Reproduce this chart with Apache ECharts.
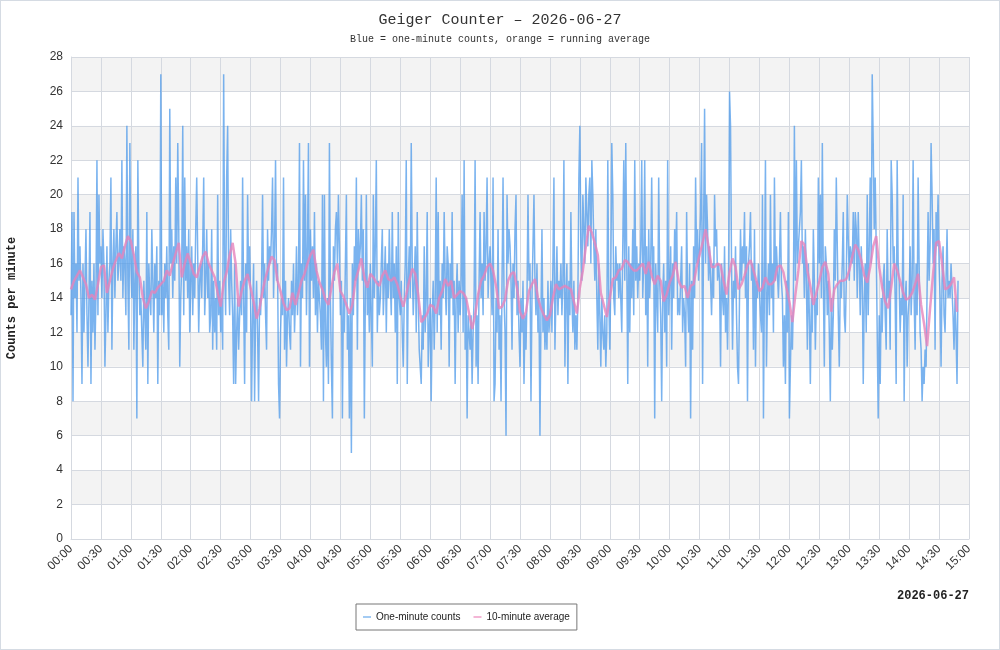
<!DOCTYPE html>
<html>
<head>
<meta charset="utf-8">
<script src="https://cdn.jsdelivr.net/npm/echarts@6/dist/echarts.min.js"></script>
<style>
html, body { margin: 0; padding: 0; background: #fff; }
#main { width: 1000px; height: 650px; box-sizing: border-box; border: 1px solid #d5dbe3; }
</style>
</head>
<body>
<div id="main"></div>
<script>
// one-minute counts, 00:00 .. 14:49 (one value per minute)
var counts = [
  13, 19, 8, 19, 14, 16, 12, 21, 15, 17,
  14, 9, 16, 12, 15, 18, 13, 10, 14, 19,
  9, 15, 12, 16, 11, 14, 22, 13, 20, 16,
  17, 14, 18, 16, 10, 13, 17, 12, 15, 16,
  21, 11, 16, 18, 14, 17, 19, 15, 16, 18,
  15, 22, 14, 17, 16, 13, 24, 15, 11, 23,
  16, 14, 18, 11, 15, 17, 7, 22, 16, 13,
  14, 12, 10, 15, 13, 11, 19, 9, 16, 14,
  13, 18, 15, 12, 16, 14, 17, 9, 15, 13,
  27, 13, 15, 12, 16, 14, 17, 13, 11, 25,
  16, 18, 14, 17, 15, 21, 16, 23, 18, 10,
  14, 16, 24, 13, 21, 15, 17, 14, 18, 12,
  15, 17, 13, 16, 14, 18, 21, 21, 12, 15,
  16, 14, 17, 21, 13, 15, 18, 14, 16, 12,
  13, 18, 11, 15, 12, 14, 11, 20, 13, 15,
  12, 14, 11, 27, 16, 13, 21, 24, 15, 13,
  18, 15, 13, 9, 16, 9, 12, 14, 11, 13,
  15, 13, 21, 14, 9, 16, 12, 20, 15, 17,
  14, 8, 13, 16, 8, 13, 15, 12, 8, 14,
  13, 15, 20, 14, 16, 13, 11, 18, 15, 17,
  16, 18, 21, 14, 17, 22, 15, 16, 9, 7,
  12, 14, 13, 21, 11, 15, 10, 13, 14, 12,
  11, 15, 13, 16, 12, 14, 17, 13, 15, 23,
  10, 16, 14, 22, 15, 20, 13, 17, 23, 10,
  18, 15, 17, 14, 19, 13, 16, 12, 15, 14,
  13, 11, 20, 8, 20, 12, 10, 14, 9, 23,
  14, 10, 7, 17, 15, 18, 19, 16, 20, 17,
  13, 15, 7, 14, 12, 16, 20, 11, 13, 7,
  14, 5, 16, 13, 17, 15, 21, 11, 18, 16,
  17, 20, 15, 18, 7, 14, 20, 13, 15, 12,
  16, 13, 10, 20, 14, 17, 22, 12, 15, 13,
  14, 16, 18, 13, 15, 17, 12, 16, 14, 18,
  15, 13, 19, 14, 16, 12, 17, 9, 19, 14,
  13, 15, 12, 10, 14, 16, 22, 9, 15, 17,
  14, 23, 16, 13, 15, 17, 12, 19, 14, 11,
  10, 9, 13, 11, 17, 12, 14, 19, 10, 12,
  14, 8, 13, 15, 11, 14, 21, 12, 19, 13,
  15, 11, 16, 14, 19, 15, 13, 17, 16, 10,
  16, 14, 19, 13, 15, 9, 14, 16, 12, 15,
  13, 15, 20, 12, 22, 11, 14, 7, 13, 12,
  11, 13, 9, 12, 14, 22, 10, 13, 9, 15,
  19, 14, 16, 13, 19, 15, 17, 21, 14, 16,
  17, 15, 13, 21, 8, 9, 14, 12, 18, 11,
  13, 8, 15, 21, 14, 12, 6, 20, 16, 18,
  17, 15, 11, 16, 14, 18, 20, 13, 15, 12,
  10, 14, 12, 15, 9, 13, 11, 14, 20, 15,
  16, 8, 14, 17, 20, 15, 13, 16, 12, 14,
  6, 13, 18, 12, 14, 11, 13, 11, 15, 12,
  13, 15, 12, 16, 21, 11, 14, 17, 13, 15,
  14, 16, 13, 15, 22, 10, 14, 16, 9, 15,
  13, 19, 14, 12, 15, 11, 13, 11, 14, 21,
  24, 17, 15, 20, 18, 16, 21, 19, 17, 20,
  21, 16, 22, 20, 17, 15, 18, 14, 11, 16,
  13, 10, 14, 12, 11, 13, 10, 12, 22, 14,
  11, 15, 23, 20, 14, 13, 17, 15, 16, 14,
  16, 14, 12, 17, 22, 15, 23, 16, 9, 17,
  12, 16, 14, 18, 13, 22, 15, 17, 14, 16,
  15, 17, 22, 14, 16, 22, 13, 17, 10, 18,
  14, 16, 21, 15, 17, 7, 16, 14, 12, 21,
  15, 13, 8, 14, 16, 12, 15, 10, 22, 13,
  15, 17, 11, 16, 14, 18, 16, 19, 13, 14,
  13, 15, 17, 12, 14, 13, 10, 19, 14, 12,
  16, 7, 15, 11, 17, 14, 21, 16, 18, 15,
  17, 19, 23, 9, 18, 25, 16, 20, 18, 15,
  17, 15, 13, 16, 14, 20, 17, 18, 15, 16,
  15, 10, 16, 14, 13, 17, 12, 14, 11, 15,
  26, 24, 16, 11, 15, 14, 17, 13, 10, 9,
  14, 18, 15, 17, 16, 19, 14, 17, 8, 16,
  17, 19, 15, 16, 11, 18, 10, 15, 14, 16,
  16, 13, 12, 20, 7, 15, 22, 10, 14, 16,
  13, 20, 14, 16, 12, 21, 15, 17, 17, 14,
  16, 19, 15, 14, 10, 13, 9, 15, 12, 19,
  7, 10, 13, 11, 14, 24, 15, 22, 16, 17,
  18, 19, 22, 16, 17, 14, 18, 15, 11, 16,
  13, 9, 14, 12, 18, 15, 11, 14, 13, 21,
  16, 20, 14, 23, 15, 10, 17, 16, 13, 15,
  12, 8, 14, 11, 13, 18, 15, 21, 21, 13,
  10, 15, 14, 16, 19, 13, 12, 15, 20, 20,
  15, 17, 17, 16, 19, 15, 19, 18, 14, 19,
  16, 13, 17, 15, 9, 14, 16, 12, 20, 13,
  17, 21, 16, 27, 23, 18, 21, 17, 12, 7,
  13, 9, 14, 12, 15, 16, 13, 11, 18, 14,
  15, 11, 22, 20, 16, 17, 14, 9, 22, 16,
  15, 12, 14, 13, 20, 8, 14, 15, 10, 13,
  14, 17, 13, 15, 22, 14, 11, 16, 13, 21,
  16, 12, 11, 8, 10, 9, 11, 10, 10, 19,
  15, 17, 23, 20, 16, 18, 11, 19, 17, 20,
  16, 14, 10, 15, 17, 13, 12, 15, 18, 14,
  15, 14, 16, 16, 13, 11, 14, 12, 9, 15
];

// 10-minute average, one reading every 3 minutes
var avgEvery = 3;
var average10 = [
  14.5, 15.0, 15.3, 15.6, 15.2, 14.8, 14.0, 14.2, 13.9, 14.8,
  15.8, 15.9, 14.3, 15.0, 15.7, 16.2, 16.6, 16.3, 17.0, 17.6,
  17.3, 16.5, 15.5, 15.2, 14.0, 13.4, 13.8, 14.4, 14.3, 14.6,
  14.8, 15.0, 15.6, 15.3, 16.0, 16.6, 17.2, 15.2, 16.0, 16.6,
  16.0, 15.4, 15.2, 15.8, 16.4, 16.7, 16.0, 15.6, 15.2, 14.3,
  13.5, 14.9, 15.5, 16.5, 17.2, 16.0, 13.5, 14.4, 15.0, 15.4,
  14.6, 13.8, 12.8, 13.4, 14.4, 15.2, 15.8, 16.4, 16.2, 15.0,
  14.4, 13.7, 13.3, 13.4, 14.3, 13.6, 14.3, 15.0, 15.4, 16.0,
  16.5, 16.8, 15.6, 14.9, 14.5, 13.9, 13.6, 14.6, 15.5, 16.0,
  14.4, 14.1, 13.6, 13.1, 13.6, 15.0, 15.6, 16.3, 15.2, 14.6,
  15.4, 15.2, 14.9, 14.7, 15.3, 15.6, 15.1, 15.0, 15.2, 14.8,
  14.1, 13.5, 14.2, 15.0, 15.7, 15.4, 14.2, 12.6, 12.8, 13.1,
  13.6, 13.5, 13.1, 14.0, 14.4, 15.1, 14.7, 15.0, 14.0, 14.2,
  14.4, 14.3, 14.0, 13.1, 12.2, 13.0, 14.2, 15.0, 15.3, 15.8,
  16.0, 15.6, 14.7, 13.4, 13.5, 13.9, 15.0, 15.4, 15.5, 14.6,
  13.2, 12.8, 13.2, 14.4, 14.8, 15.1, 14.0, 13.4, 13.0, 12.7,
  13.0, 14.0, 14.8, 14.5, 14.6, 14.7, 14.6, 14.5, 13.8, 13.1,
  14.6, 15.6, 17.0, 18.2, 17.8, 17.2, 16.5, 14.3, 13.6, 12.9,
  14.0, 15.1, 15.2, 15.6, 15.7, 16.2, 16.1, 15.8, 15.6, 15.6,
  15.8, 16.0, 15.4, 16.1, 15.3, 14.8, 15.3, 15.0, 13.8, 14.2,
  14.9, 15.3, 16.1, 15.0, 14.6, 14.7, 14.0, 14.7, 14.8, 15.8,
  16.5, 17.2, 18.0, 17.0, 15.8, 15.8, 16.0, 15.9, 15.0, 14.2,
  15.5, 16.3, 15.8, 14.5, 14.8, 15.3, 15.9, 16.2, 15.6, 15.0,
  14.4, 14.6, 15.2, 14.8, 14.8, 15.0, 15.8, 15.9, 15.5, 14.6,
  13.8, 12.6, 14.2, 15.6, 17.3, 17.1, 15.6, 14.7, 13.6, 14.3,
  15.0, 15.8, 16.1, 15.4, 13.2, 14.5, 14.8, 15.0, 15.0, 15.1,
  15.6, 16.4, 17.1, 16.8, 16.2, 15.3, 14.9, 15.8, 17.0, 17.6,
  15.8, 14.6, 13.8, 13.4, 14.6, 16.0, 15.6, 15.0, 14.3, 13.9,
  14.0, 14.3, 14.8, 15.4, 13.6, 12.5, 11.2, 13.4, 15.4, 17.2,
  17.3, 16.0, 14.5, 14.6, 14.8, 15.2, 13.2
];

var yTicks = { min: 0, max: 28, step: 2 };
var xTicks = { min: 0, max: 900, step: 30 };   // minutes after midnight
var day = '2026-06-27';

function hhmm(m) {
    var h = Math.floor(m / 60), mm = m % 60;
    return (h < 10 ? '0' : '') + h + ':' + (mm < 10 ? '0' : '') + mm;
}

var countData = counts.map(function (v, i) { return [i, v]; });
var avgData = average10.map(function (v, i) { return [i * avgEvery, v]; });

var myChart = echarts.init(document.getElementById('main'));

var option = {
    backgroundColor: '#fff',
    animation: false,
    title: {
        text: 'Geiger Counter \u2013 ' + day,
        subtext: 'Blue = one-minute counts, orange = running average',
        left: 'center',
        top: 7,
        itemGap: 6,
        textStyle: { fontFamily: 'Liberation Mono', fontSize: 15, fontWeight: 'normal', color: '#333' },
        subtextStyle: { fontFamily: 'Liberation Mono', fontSize: 10, color: '#333' }
    },
    legend: {
        left: 355,
        top: 603,
        padding: [8, 7],
        itemGap: 13,
        itemWidth: 8,
        itemHeight: 2,
        icon: 'rect',
        borderColor: '#777',
        borderWidth: 1,
        textStyle: { fontSize: 10, color: '#222', fontFamily: 'Liberation Sans' },
        data: [
            { name: 'One-minute counts', itemStyle: { color: '#a3cbf3' } },
            { name: '10-minute average', itemStyle: { color: '#f4b6d6' } }
        ]
    },
    grid: {
        left: 70,
        right: 30,
        top: 56,
        bottom: 110,
        outerBoundsMode: 'none'
    },
    xAxis: {
        type: 'value',
        min: xTicks.min,
        max: xTicks.max,
        interval: xTicks.step,
        axisLine: { lineStyle: { color: '#d5d9e0' } },
        axisTick: { show: false },
        axisLabel: {
            rotate: 45,
            color: '#333',
            fontSize: 12,
            margin: 8,
            formatter: function (v) { return hhmm(v); }
        },
        splitLine: { show: true, lineStyle: { color: '#d5d9e0' } }
    },
    yAxis: {
        type: 'value',
        min: yTicks.min,
        max: yTicks.max,
        interval: yTicks.step,
        name: 'Counts per minute',
        nameLocation: 'middle',
        nameGap: 53,
        nameTextStyle: { fontFamily: 'Liberation Mono', fontWeight: 'bold', fontSize: 12, color: '#222' },
        axisLine: { show: true, lineStyle: { color: '#d5d9e0' } },
        axisTick: { show: false },
        axisLabel: { color: '#333', fontSize: 12, margin: 8 },
        splitLine: { lineStyle: { color: '#d5d9e0' } },
        splitArea: { show: true, areaStyle: { color: ['#ffffff', '#f3f3f3'] } }
    },
    graphic: [{
        type: 'text',
        right: 30,
        top: 589,
        style: {
            text: day,
            font: 'bold 12px "Liberation Mono"',
            fill: '#222'
        }
    }],
    series: [{
        name: 'One-minute counts',
        type: 'line',
        data: countData,
        symbol: 'none',
        lineStyle: { color: '#4d9aea', width: 1.5, opacity: 0.75 },
        itemStyle: { color: '#a3cbf3' },
        z: 2
    }, {
        name: '10-minute average',
        type: 'line',
        data: avgData,
        symbol: 'none',
        lineStyle: { color: '#e683bb', width: 2.5, opacity: 0.8 },
        itemStyle: { color: '#f4b6d6' },
        z: 3
    }]
};

myChart.setOption(option);
</script>
</body>
</html>
